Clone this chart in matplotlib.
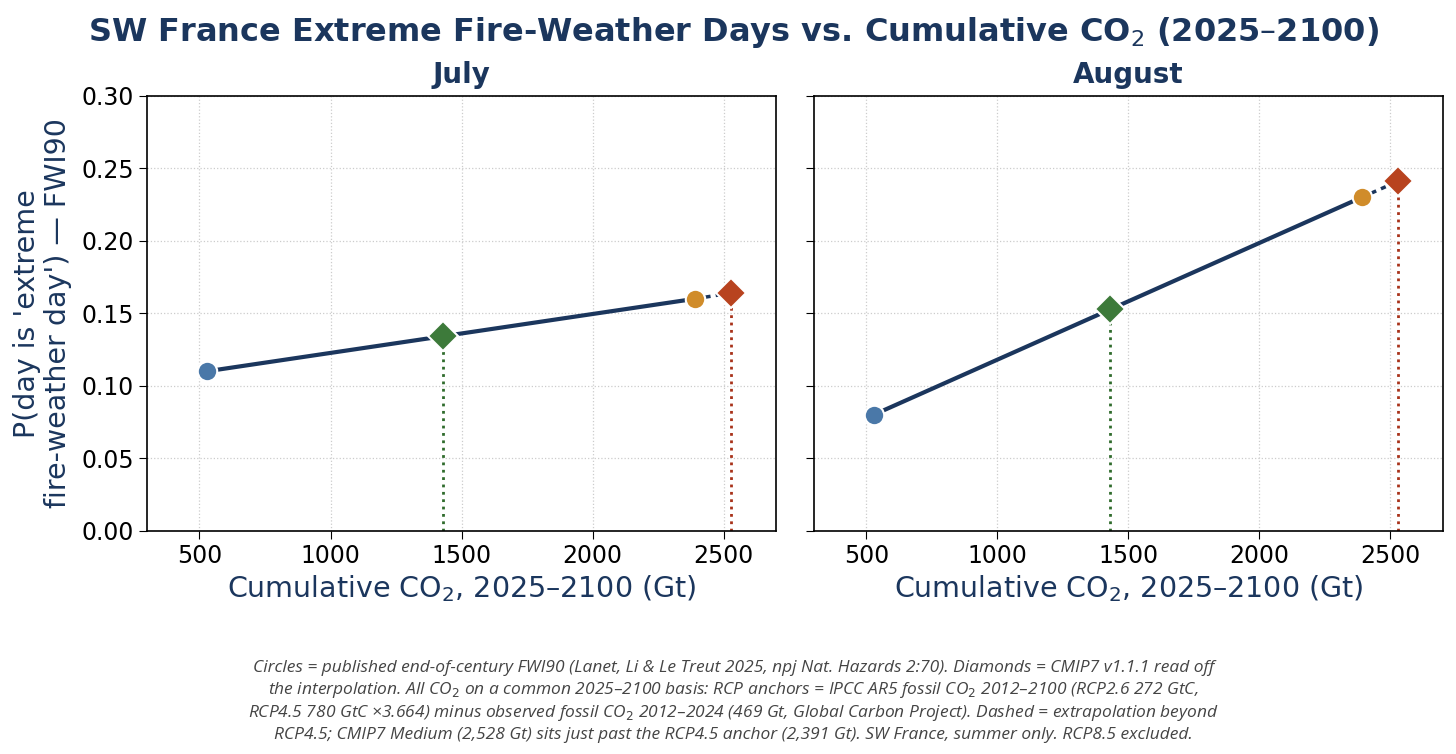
import matplotlib.pyplot as plt

plt.rcParams['font.family'] = ['DejaVu Sans']

# cumulative CO2 2025-2100 (Gt)
rcp_x = [528, 2391]          # RCP2.6, RCP4.5 anchors
cmip_x = [1431, 2528]        # CMIP7 diamonds

months = ["July", "August"]
rcp_p = {"July": [0.110, 0.160], "August": [0.080, 0.230]}
cmip_p = {"July": [0.134, 0.164], "August": [0.153, 0.241]}

yticks = [0.00, 0.05, 0.10, 0.15, 0.20, 0.25, 0.30]
xticks = [500, 1000, 1500, 2000, 2500]

navy = "#1b365d"
circle_cols = ["#4a78a8", "#d08c2a"]
diam_cols = ["#3d7a3a", "#b8431f"]
vline_cols = ["#2f6b2c", "#a8321a"]

note = ("Circles = published end-of-century FWI90 (Lanet, Li & Le Treut 2025, npj Nat. Hazards 2:70). "
        "Diamonds = CMIP7 v1.1.1 read off\n"
        "the interpolation. All CO$_2$ on a common 2025–2100 basis: RCP anchors = IPCC AR5 fossil CO$_2$ "
        "2012–2100 (RCP2.6 272 GtC,\n"
        "RCP4.5 780 GtC ×3.664) minus observed fossil CO$_2$ 2012–2024 (469 Gt, Global Carbon Project). "
        "Dashed = extrapolation beyond\n"
        "RCP4.5; CMIP7 Medium (2,528 Gt) sits just past the RCP4.5 anchor (2,391 Gt). "
        "SW France, summer only. RCP8.5 excluded.")

fig, axes = plt.subplots(1, 2, figsize=(14.56, 7.54), dpi=100, sharey=True)
fig.subplots_adjust(left=0.101, right=0.991, top=0.873, bottom=0.296, wspace=0.06)

for ax, m in zip(axes, months):
    ax.grid(True, ls=":", color="#cccccc", lw=0.9)
    ax.set_axisbelow(True)
    # solid interpolation between published anchors
    ax.plot(rcp_x, rcp_p[m], color=navy, lw=3, zorder=2)
    # dashed extrapolation to the CMIP7 medium point
    ax.plot([rcp_x[1], cmip_x[1]], [rcp_p[m][1], cmip_p[m][1]], color=navy, lw=2.5,
            ls=(0, (1.5, 1.5)), zorder=2)
    for xv, yv, c in zip(cmip_x, cmip_p[m], vline_cols):
        ax.plot([xv, xv], [0, yv], color=c, ls=":", lw=2, zorder=1)
    for xv, yv, c in zip(rcp_x, rcp_p[m], circle_cols):
        ax.plot(xv, yv, "o", ms=14, color=c, mec="white", mew=1.5, zorder=4)
    for xv, yv, c in zip(cmip_x, cmip_p[m], diam_cols):
        ax.plot(xv, yv, "D", ms=15, color=c, mec="white", mew=1.5, zorder=5)
    ax.set_xlim(300, 2700)
    ax.set_ylim(0, 0.30)
    ax.set_xticks(xticks)
    ax.set_yticks(yticks)
    ax.tick_params(labelsize=17, length=6)
    ax.set_title(m, fontsize=20, fontweight="bold", color=navy, pad=9)
    ax.set_xlabel("Cumulative CO$_2$, 2025–2100 (Gt)", fontsize=20.5, color=navy)
    for s in ax.spines.values():
        s.set_linewidth(1.2)

axes[0].set_yticklabels([f"{v:.2f}" for v in yticks])
axes[0].set_ylabel("P(day is 'extreme\nfire-weather day') — FWI90", fontsize=20.5,
                   color=navy, linespacing=1.1, labelpad=7)

fig.suptitle("SW France Extreme Fire-Weather Days vs. Cumulative CO$_2$ (2025–2100)",
             fontsize=23, fontweight="bold", color=navy, x=0.504, y=0.98)
fig.text(0.504, 0.015, note, ha="center", va="bottom", fontsize=12.5, style="italic",
         color="#444444", family="Open Sans", linespacing=1.27)

fig.savefig("out.png", dpi=100)
